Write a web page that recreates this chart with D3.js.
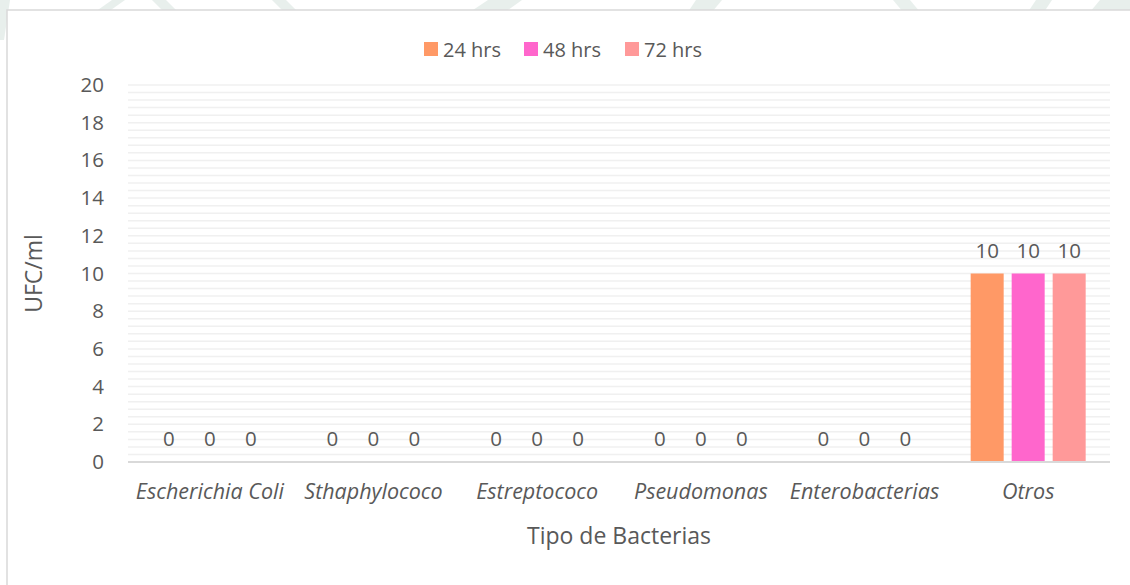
<!DOCTYPE html>
<html>
<head>
<meta charset="utf-8">
<script src="https://cdn.jsdelivr.net/npm/d3@7"></script>
<style>
  html, body { margin: 0; padding: 0; background: #fff; }
  svg { display: block; }
  text { font-family: "Open Sans", "Liberation Sans", sans-serif; fill: #595959; }
</style>
</head>
<body>
<svg id="chart" width="1130" height="585"></svg>
<script>
// Bacterial counts (UFC/ml) per incubation time
const categories = ["Escherichia Coli", "Sthaphylococo", "Estreptococo", "Pseudomonas", "Enterobacterias", "Otros"];
const seriesNames = ["24 hrs", "48 hrs", "72 hrs"];
const values24 = [0, 0, 0, 0, 0, 10];
const values48 = [0, 0, 0, 0, 0, 10];
const values72 = [0, 0, 0, 0, 0, 10];
const yTicks = [0, 2, 4, 6, 8, 10, 12, 14, 16, 18, 20];
const colors = ["#ff9966", "#ff66cc", "#ff9999"];

const seriesValues = [values24, values48, values72];
const svg = d3.select("#chart");
const W = 1130, H = 585;

// faint background decoration around the chart frame
const deco = svg.append("g").attr("fill", "#e3ece8").attr("opacity", 0.8);
const bands = [
  [[-10, 0], [10, 0], [4, 40], [-16, 40]],
  [[112, 0], [125, 0], [108, 12], [95, 12]],
  [[152, 0], [166, 0], [178, 12], [164, 12]],
  [[272, 0], [286, 0], [298, 12], [284, 12]],
  [[488, 0], [522, 0], [505, 12], [470, 12]],
  [[696, 0], [722, 0], [712, 12], [688, 12]],
  [[893, 0], [910, 0], [920, 12], [903, 12]],
  [[1036, 0], [1052, 0], [1044, 12], [1028, 12]],
  [[1100, 0], [1140, 0], [1130, 12], [1090, 12]]
];
deco.selectAll("polygon").data(bands).join("polygon")
  .attr("points", d => d.map(p => p.join(",")).join(" "));

// chart frame
svg.append("rect")
  .attr("x", 7).attr("y", 10).attr("width", W + 20).attr("height", H + 20)
  .attr("fill", "#fff").attr("stroke", "#d9d9d9").attr("stroke-width", 1.5);

const plot = { left: 128, right: 1110, top: 85, bottom: 462 };

const x0 = d3.scaleBand().domain(categories).range([plot.left, plot.right]).paddingInner(0).paddingOuter(0);
const y = d3.scaleLinear().domain([0, 20]).range([plot.bottom, plot.top]);

// group layout inside each category: bars 33px with 8px gaps
const groupInner = 3 * 33 + 2 * 8;
const x1 = d3.scaleBand().domain(seriesNames)
  .range([(x0.bandwidth() - groupInner) / 2, (x0.bandwidth() + groupInner) / 2])
  .paddingInner(8 / 41).paddingOuter(0);

// gridlines (major and minor at 0.4 steps)
const gridVals = d3.range(0, 20.0001, 0.4).filter(v => v > 0.001);
svg.append("g").selectAll("line").data(gridVals).join("line")
  .attr("x1", plot.left).attr("x2", plot.right)
  .attr("y1", d => y(d)).attr("y2", d => y(d))
  .attr("stroke", "#f0f0f0").attr("stroke-width", 1.5);

// y axis labels
const yAxis = d3.axisLeft(y).tickValues(yTicks).tickSize(0).tickPadding(24);
const yg = svg.append("g").attr("transform", `translate(${plot.left},0)`).call(yAxis);
yg.select(".domain").remove();
yg.selectAll("text").attr("font-size", 20.5).style("fill", "#595959")
  .style("font-family", '"Open Sans", sans-serif');

// bars
const groups = svg.append("g").selectAll("g").data(categories).join("g")
  .attr("transform", d => `translate(${x0(d)},0)`);

groups.selectAll("rect")
  .data((c, ci) => seriesNames.map((s, si) => ({ s, si, v: seriesValues[si][ci] })))
  .join("rect")
  .attr("x", d => x1(d.s))
  .attr("width", x1.bandwidth())
  .attr("y", d => y(d.v))
  .attr("height", d => y(0) - y(d.v))
  .attr("fill", d => colors[d.si]);

groups.selectAll("text.val")
  .data((c, ci) => seriesNames.map((s, si) => ({ s, si, v: seriesValues[si][ci] })))
  .join("text")
  .attr("class", "val")
  .attr("x", d => x1(d.s) + x1.bandwidth() / 2)
  .attr("y", d => y(d.v) - 24)
  .attr("text-anchor", "middle")
  .attr("dominant-baseline", "central")
  .attr("font-size", 20.5)
  .text(d => d.v);

// x axis
const xAxis = d3.axisBottom(x0).tickSize(0).tickPadding(22);
const xg = svg.append("g").attr("transform", `translate(0,${plot.bottom})`).call(xAxis);
xg.select(".domain").attr("stroke", "#d9d9d9").attr("stroke-width", 2)
  .attr("d", `M${plot.left},0H${plot.right}`);
xg.selectAll("text").attr("font-size", 21.5).style("font-style", "italic")
  .style("fill", "#595959").style("font-family", '"Open Sans", sans-serif');

// axis titles
svg.append("text")
  .attr("x", (plot.left + plot.right) / 2).attr("y", 535)
  .attr("text-anchor", "middle").attr("dominant-baseline", "central")
  .attr("font-size", 23).text("Tipo de Bacterias");

svg.append("text")
  .attr("transform", `translate(33,${(plot.top + plot.bottom) / 2}) rotate(-90)`)
  .attr("text-anchor", "middle").attr("dominant-baseline", "central")
  .attr("font-size", 23).text("UFC/ml");

// legend
const legendX = [424, 524, 625];
const legend = svg.append("g").selectAll("g").data(seriesNames).join("g")
  .attr("transform", (d, i) => `translate(${legendX[i]},42)`);
legend.append("rect").attr("width", 14).attr("height", 14).attr("fill", (d, i) => colors[i]);
legend.append("text").attr("x", 19).attr("y", 7).attr("dominant-baseline", "central")
  .attr("font-size", 20).text(d => d);
</script>
</body>
</html>
